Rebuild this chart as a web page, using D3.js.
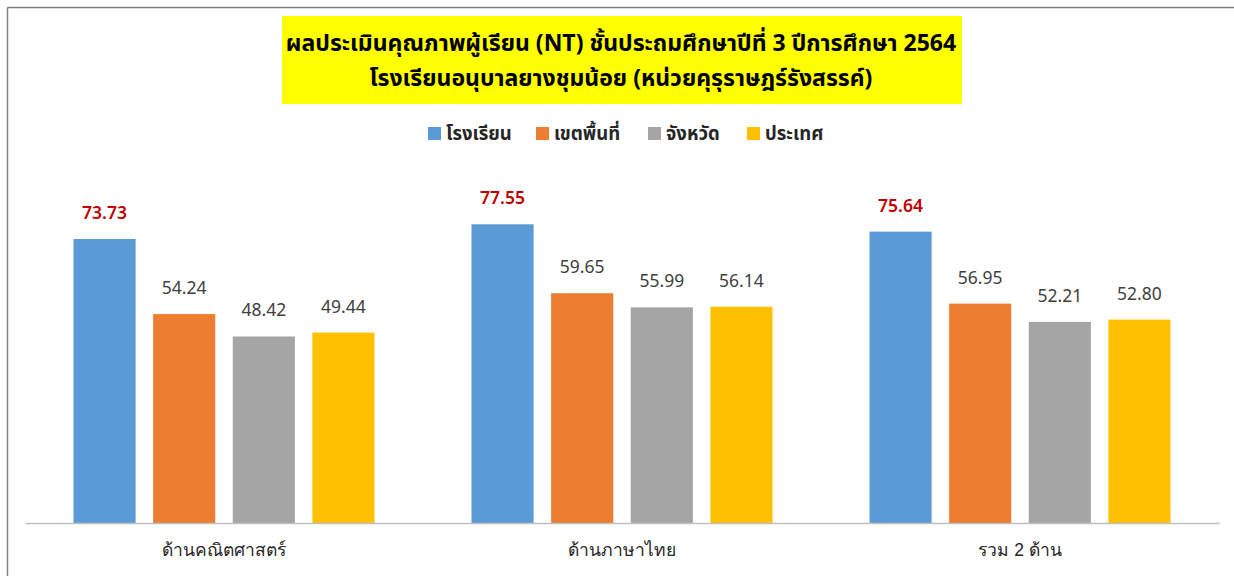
<!DOCTYPE html>
<html>
<head>
<meta charset="utf-8">
<script src="https://cdn.jsdelivr.net/npm/d3@7/dist/d3.min.js"></script>
<style>
  html, body { margin: 0; padding: 0; background: #fff; }
  svg { display: block; font-family: "Noto Sans Thai", "Leelawadee UI", Tahoma, "Noto Sans", "DejaVu Sans", sans-serif; }
</style>
</head>
<body>
<svg id="chart" width="1234" height="576"></svg>
<script>
const titleLines = ["ผลประเมินคุณภาพผู้เรียน (NT) ชั้นประถมศึกษาปีที่ 3 ปีการศึกษา 2564",
                    "โรงเรียนอนุบาลยางชุมน้อย (หน่วยคุรุราษฎร์รังสรรค์)"];
const categories = ["ด้านคณิตศาสตร์", "ด้านภาษาไทย", "รวม 2 ด้าน"];
const seriesNames = ["โรงเรียน", "เขตพื้นที่", "จังหวัด", "ประเทศ"];
const seriesColors = ["#5b9bd5", "#ed7d31", "#a5a5a5", "#ffc000"];
const school   = [73.73, 77.55, 75.64];
const district = [54.24, 59.65, 56.95];
const province = [48.42, 55.99, 52.21];
const country  = [49.44, 56.14, 52.80];
const seriesValues = [school, district, province, country];

const svg = d3.select("#chart");

// frame lines (top & left)
svg.append("line").attr("x1", 7.5).attr("y1", 7.5).attr("x2", 1234).attr("y2", 7.5)
  .attr("stroke", "#7f7f7f").attr("stroke-width", 1.5);
svg.append("line").attr("x1", 7.5).attr("y1", 7.5).attr("x2", 7.5).attr("y2", 576)
  .attr("stroke", "#7f7f7f").attr("stroke-width", 1.5);

// title box
svg.append("rect").attr("x", 282).attr("y", 16).attr("width", 680).attr("height", 88).attr("fill", "#ffff00");
svg.selectAll("text.title").data(titleLines).join("text")
  .attr("class", "title")
  .attr("x", 621).attr("y", (d, i) => 51 + i * 35)
  .attr("text-anchor", "middle")
  .attr("font-size", 23).attr("font-weight", "bold").attr("fill", "#000")
  .text(d => d);

// legend
const legendX = [428, 536, 648, 747];
const lg = svg.append("g");
seriesNames.forEach((n, i) => {
  lg.append("rect").attr("x", legendX[i]).attr("y", 127).attr("width", 13).attr("height", 13).attr("fill", seriesColors[i]);
  lg.append("text").attr("x", legendX[i] + 18).attr("y", 140)
    .attr("font-size", 18.5).attr("font-weight", "bold").attr("fill", "#262626").text(n);
});

// scales
const left = 25, right = 1219, base = 523;
const x0 = d3.scaleBand().domain(categories).range([left, right]).padding(0);
const x1 = d3.scaleBand().domain(d3.range(seriesNames.length))
  .range([48.5, x0.bandwidth() - 48.5]).paddingInner(0.22).paddingOuter(0);
const y = d3.scaleLinear().domain([0, 100]).range([base, base - 385.2]);

// bars
categories.forEach((c, ci) => {
  const g = svg.append("g").attr("transform", `translate(${x0(c)},0)`);
  seriesValues.forEach((vals, si) => {
    const v = vals[ci];
    g.append("rect")
      .attr("x", x1(si)).attr("y", y(v))
      .attr("width", x1.bandwidth()).attr("height", base - y(v))
      .attr("fill", seriesColors[si]);
    g.append("text")
      .attr("x", x1(si) + x1.bandwidth() / 2).attr("y", y(v) - 20)
      .attr("text-anchor", "middle")
      .attr("font-size", 17.5)
      .attr("font-weight", si === 0 ? 600 : "normal")
      .attr("fill", si === 0 ? "#c00000" : "#404040")
      .text(v.toFixed(2));
  });
});

// axis
const axis = d3.axisBottom(x0).tickSize(0).tickPadding(21);
const ag = svg.append("g").attr("transform", `translate(0,${base})`).call(axis);
ag.select(".domain").attr("stroke", "#bfbfbf").attr("stroke-width", 1.5);
ag.selectAll("text").attr("font-size", 17.5).attr("fill", "#262626")
  .attr("font-family", null);
</script>
</body>
</html>
